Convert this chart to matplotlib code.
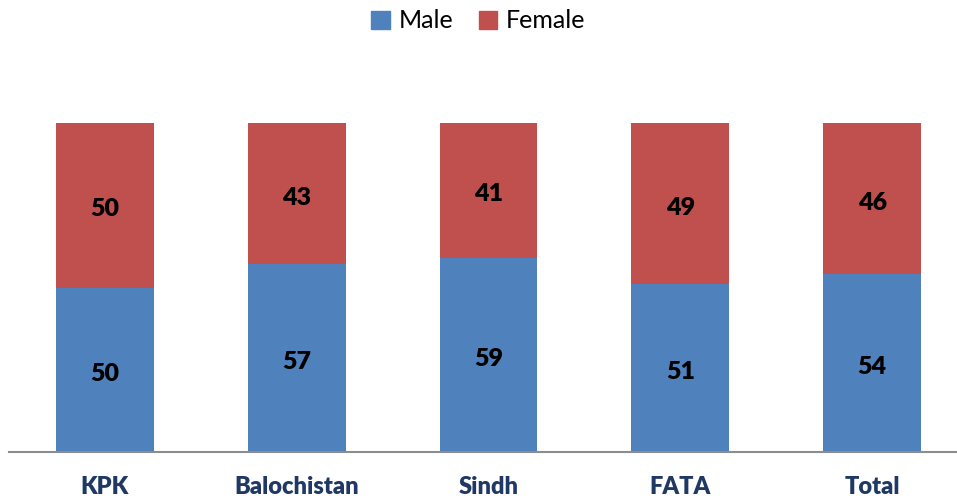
import matplotlib
matplotlib.use("Agg")
import matplotlib.pyplot as plt
from matplotlib.patches import Patch

categories = ["KPK", "Balochistan", "Sindh", "FATA", "Total"]
male = [50, 57, 59, 51, 54]
female = [50, 43, 41, 49, 46]

plt.rcParams['font.family'] = ['Lato', 'DejaVu Sans']

fig = plt.figure(figsize=(9.57, 5.0), dpi=100)
ax = fig.add_axes([9/957, 48/500, 959/957, 329/500])

x = list(range(len(categories)))
w = 0.51
c_m = "#4F81BD"
c_f = "#C0504D"
ax.bar(x, male, width=w, color=c_m)
ax.bar(x, female, width=w, bottom=male, color=c_f)

for i in x:
    ax.text(i, male[i] / 2 - 1.2, str(male[i]), ha='center', va='center',
            fontsize=18, fontweight='heavy', color='black')
    ax.text(i, male[i] + female[i] / 2 - 1.2, str(female[i]), ha='center', va='center',
            fontsize=18, fontweight='heavy', color='black')

ax.set_xlim(-0.5, 4.5)
ax.set_ylim(0, 100)
for s in ['top', 'right', 'left']:
    ax.spines[s].set_visible(False)
ax.spines['bottom'].set_color('#8C8C8C')
ax.spines['bottom'].set_linewidth(1.5)
ax.set_yticks([])
ax.set_xticks(x)
ax.set_xticklabels(categories, fontsize=17, fontweight='heavy', color='#1F3864')
ax.tick_params(axis='x', length=0, pad=17)

handles = [Patch(color=c_m, label='Male'), Patch(color=c_f, label='Female')]
fig.legend(handles=handles, loc='center', bbox_to_anchor=(0.5, 1 - 21/500), ncol=2,
           frameon=False, fontsize=18, handlelength=0.75, handleheight=0.75,
           handletextpad=0.35, columnspacing=1.0)

fig.savefig("out.png", dpi=100)
